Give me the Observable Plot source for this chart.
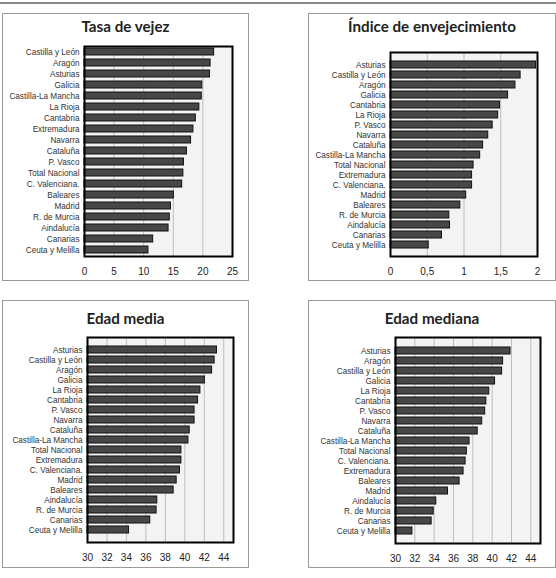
<!DOCTYPE html>
<html><head><meta charset="utf-8">
<script src="https://cdn.jsdelivr.net/npm/d3@7"></script>
<script src="https://cdn.jsdelivr.net/npm/@observablehq/plot@0.6"></script>
<style>
html,body{margin:0;padding:0;background:#fff;}
#root{position:relative;width:556px;height:578px;overflow:hidden;font-family:"Liberation Sans",Arial,sans-serif;}
.rule{position:absolute;left:0;top:2px;width:556px;height:2px;background:#8a8a8a;}
.box{position:absolute;border:1px solid #9a9a9a;box-sizing:border-box;}
.title{position:absolute;left:0;width:100%;text-align:center;font-family:Lato,"Open Sans",sans-serif;font-weight:700;font-size:15.2px;line-height:16px;color:#222;white-space:nowrap;}
svg{position:absolute;}
</style>
</head><body><div id="root"><div class="rule"></div></div>
<script>
// Tasa de vejez
const vejezCats = ["Castilla y León","Aragón","Asturias","Galicia","Castilla-La Mancha","La Rioja","Cantabria","Extremadura","Navarra","Cataluña","P. Vasco","Total Nacional","C. Valenciana.","Baleares","Madrid","R. de Murcia","Aindalucía","Canarias","Ceuta y Melilla"];
const vejezVals = [21.9,21.3,21.2,19.9,19.8,19.4,18.8,18.4,18.0,17.3,16.8,16.7,16.5,15.1,14.6,14.4,14.2,11.6,10.8];
const vejezTicks = [0,5,10,15,20,25];

// Índice de envejecimiento
const indiceCats = ["Asturias","Castilla y León","Aragón","Galicia","Cantabria","La Rioja","P. Vasco","Navarra","Cataluña","Castilla-La Mancha","Total Nacional","Extremadura","C. Valenciana.","Madrid","Baleares","R. de Murcia","Aindalucía","Canarias","Ceuta y Melilla"];
const indiceVals = [1.98,1.77,1.70,1.60,1.49,1.465,1.39,1.33,1.26,1.22,1.13,1.11,1.11,1.03,0.95,0.80,0.81,0.70,0.52];
const indiceTicks = [0,0.5,1,1.5,2];

// Edad media
const mediaCats = ["Asturias","Castilla y León","Aragón","Galicia","La Rioja","Cantabria","P. Vasco","Navarra","Cataluña","Castilla-La Mancha","Total Nacional","Extremadura","C. Valenciana.","Madrid","Baleares","Aindalucía","R. de Murcia","Canarias","Ceuta y Melilla"];
const mediaVals = [43.3,43.06,42.8,42.06,41.6,41.36,41.0,41.0,40.5,40.37,39.65,39.65,39.5,39.16,38.85,37.17,37.1,36.45,34.27];
const edadTicks = [30,32,34,36,38,40,42,44];

// Edad mediana
const medianaCats = ["Asturias","Aragón","Castilla y León","Galicia","La Rioja","Cantabria","P. Vasco","Navarra","Cataluña","Castilla-La Mancha","Total Nacional","C. Valenciana.","Extremadura","Baleares","Madrid","Aindalucía","R. de Murcia","Canarias","Ceuta y Melilla"];
const medianaVals = [41.9,41.13,41.03,40.3,39.7,39.4,39.28,38.97,38.5,37.66,37.38,37.25,37.04,36.63,35.43,34.22,33.95,33.74,31.75];

const root = document.getElementById("root");
const fmtComma = d => String(d).replace(".", ",");

function panel(opts) {
  const [bx, by, bw, bh] = opts.box;
  const [px0, py0, px1, py1] = opts.plot;
  const box = document.createElement("div");
  box.className = "box";
  Object.assign(box.style, {left: bx + "px", top: by + "px", width: bw + "px", height: bh + "px"});
  root.appendChild(box);
  const t = document.createElement("div");
  t.className = "title";
  t.textContent = opts.title;
  t.style.top = (opts.titleTop - by - 1) + "px";
  box.appendChild(t);

  const sx = bx + 1, sy = by + 1, sw = bw - 2, sh = bh - 2;
  const data = opts.cats.map((c, i) => ({c, v: opts.vals[i]}));
  const svg = Plot.plot({
    width: sw, height: sh,
    marginLeft: px0 - sx, marginRight: sx + sw - px1,
    marginTop: py0 - sy, marginBottom: sy + sh - py1,
    style: {fontFamily: "'Liberation Sans', Arial, sans-serif", fontSize: "8.2px", color: "#222", background: "transparent", overflow: "visible"},
    x: {domain: opts.domain, ticks: opts.ticks},
    y: {domain: opts.cats, paddingInner: 0.33, paddingOuter: 0.2},
    marks: [
      Plot.frame({fill: "#f3f3f3", stroke: null}),
      Plot.ruleX(opts.ticks, {stroke: "#bdbdbd", strokeWidth: 1}),
      Plot.barX(data, {x1: opts.domain[0], x2: "v", y: "c", fill: "#474747", stroke: "#111", strokeWidth: 1}),
      Plot.frame({stroke: "#000", strokeWidth: 2}),
      Plot.axisY({tickSize: 0, tickPadding: 5, label: null, fill: "#333"}),
      Plot.axisX({ticks: opts.ticks, tickSize: 0, tickPadding: 11, label: null, fontSize: 10, tickFormat: opts.fmt, fill: "#222"})
    ]
  });
  svg.style.left = sx + "px";
  svg.style.top = sy + "px";
  root.appendChild(svg);
}

panel({box: [2, 13, 247, 268], plot: [84, 46, 232, 256], title: "Tasa de vejez", titleTop: 17.5,
  cats: vejezCats, vals: vejezVals, domain: [0, 25], ticks: vejezTicks, fmt: d => String(d)});
panel({box: [308, 13, 248, 268], plot: [390, 52, 537, 256], title: "Índice de envejecimiento", titleTop: 17.5,
  cats: indiceCats, vals: indiceVals, domain: [0, 2], ticks: indiceTicks, fmt: fmtComma});
panel({box: [2, 300, 247, 268], plot: [87, 337, 233, 542], title: "Edad media", titleTop: 309.5,
  cats: mediaCats, vals: mediaVals, domain: [30, 45], ticks: edadTicks, fmt: d => String(d)});
panel({box: [308, 300, 248, 268], plot: [395, 337, 540, 543], title: "Edad mediana", titleTop: 309.5,
  cats: medianaCats, vals: medianaVals, domain: [30, 45], ticks: edadTicks, fmt: d => String(d)});
</script>
</body></html>
